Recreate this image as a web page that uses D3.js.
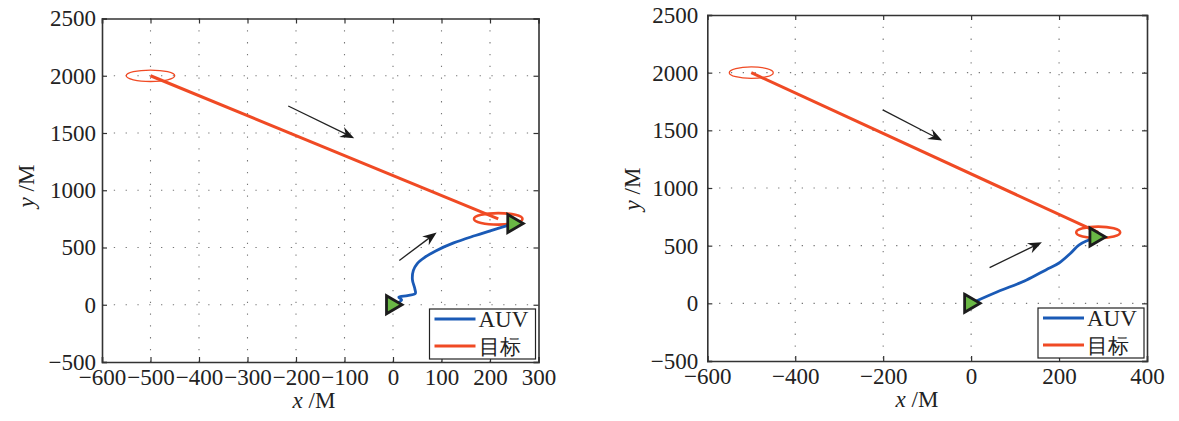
<!DOCTYPE html>
<html>
<head>
<meta charset="utf-8">
<script src="https://cdn.jsdelivr.net/npm/d3@7"></script>
<style>
body { margin: 0; background: #fff; }
text { font-family: "Liberation Serif", "DejaVu Serif", serif; fill: #222; }
</style>
</head>
<body>
<svg id="chart" width="1179" height="421"></svg>
<script>
// tick values
var yTicks = [-500, 0, 500, 1000, 1500, 2000, 2500];
var xTicksA = [-600, -500, -400, -300, -200, -100, 0, 100, 200, 300];
var xTicksB = [-600, -400, -200, 0, 200, 400];

// left panel tracks (metres)
var auvXA = [0, 18, 12, 30, 46, 45, 40, 42, 50, 64, 88, 125, 170, 215, 250];
var auvYA = [0, 42, 66, 80, 98, 140, 220, 300, 360, 410, 470, 540, 605, 665, 710];
var tgtXA = [-500, 217];
var tgtYA = [2000, 750];

// right panel tracks (metres)
var auvXB = [0, 60, 125, 170, 200, 225, 245, 265, 285];
var auvYB = [0, 100, 200, 290, 350, 430, 505, 545, 575];
var tgtXB = [-500, 289];
var tgtYB = [2000, 615];

// direction arrows: x0, y0, x1, y1
var arrowsA = [[-216, 1736, -80, 1455], [13, 387, 90, 631]];
var arrowsB = [[-201, 1677, -66, 1411], [42, 310, 161, 530]];

var seriesNames = ["AUV", "目标"];
var circleRadius = 50;

var blue = "#1a5ab6", red = "#f04a24", green = "#6ab845";

var svg = d3.select("#chart");

function zip(xs, ys) { return xs.map(function(v, i) { return [v, ys[i]]; }); }

function drawPanel(p) {
  var x = d3.scaleLinear().domain(p.xDomain).range([p.left, p.right]);
  var y = d3.scaleLinear().domain([-500, 2500]).range([p.bottom, p.top]);
  var g = svg.append("g");

  // dotted grid
  g.selectAll(".gx").data(p.xTicks.slice(1, -1)).enter().append("line")
    .attr("x1", function(d) { return x(d); }).attr("x2", function(d) { return x(d); })
    .attr("y1", p.top).attr("y2", p.bottom)
    .attr("stroke", "#777").attr("stroke-width", 1.1).attr("stroke-dasharray", "1.3 10.5");
  g.selectAll(".gy").data(yTicks.slice(1, -1)).enter().append("line")
    .attr("y1", function(d) { return y(d); }).attr("y2", function(d) { return y(d); })
    .attr("x1", p.left).attr("x2", p.right)
    .attr("stroke", "#777").attr("stroke-width", 1.1).attr("stroke-dasharray", "1.3 10.5");

  // axes (ticks inward on all sides)
  var tl = 5;
  var fmt = function(d) { return d < 0 ? "\u2212" + Math.abs(d) : d; };
  g.append("g").attr("transform", "translate(0," + p.bottom + ")")
    .call(d3.axisBottom(x).tickValues(p.xTicks).tickSize(-tl).tickPadding(7).tickFormat(fmt));
  g.append("g").attr("transform", "translate(0," + p.top + ")")
    .call(d3.axisTop(x).tickValues(p.xTicks).tickSize(-tl).tickFormat(""));
  g.append("g").attr("transform", "translate(" + p.left + ",0)")
    .call(d3.axisLeft(y).tickValues(yTicks).tickSize(-tl).tickPadding(p.yPad).tickFormat(fmt));
  g.append("g").attr("transform", "translate(" + p.right + ",0)")
    .call(d3.axisRight(y).tickValues(yTicks).tickSize(-tl).tickFormat(""));
  g.selectAll(".domain").attr("stroke", "#333").attr("stroke-width", 1.6);
  g.selectAll(".tick line").attr("stroke", "#333").attr("stroke-width", 1.2);
  g.selectAll(".tick text").attr("font-size", 23).attr("font-family", "Liberation Serif").attr("fill", "#222");

  // axis labels
  var xl = g.append("text").attr("x", p.xLabelX).attr("y", p.bottom + 46)
    .attr("text-anchor", "middle").attr("font-size", 23);
  xl.append("tspan").attr("font-style", "italic").text("x");
  xl.append("tspan").text(" /M");
  var yl = g.append("text")
    .attr("transform", "translate(" + p.yLabelX + "," + p.yLabelY + ") rotate(-90)")
    .attr("text-anchor", "middle").attr("font-size", 23);
  yl.append("tspan").attr("font-style", "italic").text("y");
  yl.append("tspan").text(" /M");

  var line = d3.line().x(function(d) { return x(d[0]); }).y(function(d) { return y(d[1]); });

  // target track and circles
  var tgt = zip(p.tgtX, p.tgtY);
  var auv = zip(p.auvX, p.auvY);
  g.append("path").attr("d", line(tgt)).attr("fill", "none")
    .attr("stroke", red).attr("stroke-width", 3);
  g.append("ellipse").attr("cx", x(tgt[0][0])).attr("cy", y(tgt[0][1]))
    .attr("rx", x(circleRadius) - x(0)).attr("ry", y(0) - y(circleRadius))
    .attr("fill", "none").attr("stroke", red).attr("stroke-width", 1.3);
  g.append("ellipse").attr("cx", x(tgt[1][0])).attr("cy", y(tgt[1][1]))
    .attr("rx", x(circleRadius) - x(0)).attr("ry", y(0) - y(circleRadius))
    .attr("fill", "none").attr("stroke", red).attr("stroke-width", 2.6);

  // AUV track
  g.append("path").attr("d", line.curve(d3.curveCatmullRom)(auv)).attr("fill", "none")
    .attr("stroke", blue).attr("stroke-width", 2.8).attr("stroke-linejoin", "round");

  // triangle markers at start and end of AUV track
  [auv[0], auv[auv.length - 1]].forEach(function(d) {
    g.append("path").attr("d", "M-6.5,-9L9,0L-6.5,9Z")
      .attr("transform", "translate(" + x(d[0]) + "," + y(d[1]) + ")")
      .attr("fill", green).attr("stroke", "#1c1c1c").attr("stroke-width", 2.8)
      .attr("stroke-linejoin", "miter");
  });

  // arrows
  p.arrows.forEach(function(a) {
    var x0 = x(a[0]), y0 = y(a[1]), x1 = x(a[2]), y1 = y(a[3]);
    var ang = Math.atan2(y1 - y0, x1 - x0);
    var bx = x1 - 9 * Math.cos(ang), by = y1 - 9 * Math.sin(ang);
    g.append("line").attr("x1", x0).attr("y1", y0).attr("x2", bx).attr("y2", by)
      .attr("stroke", "#222").attr("stroke-width", 1.3);
    g.append("path").attr("d", "M0,0L-14,-5.5L-9.5,0L-14,5.5Z")
      .attr("transform", "translate(" + x1 + "," + y1 + ") rotate(" + (ang * 180 / Math.PI) + ")")
      .attr("fill", "#1a1a1a");
  });

  // legend
  var lw = 106, lh = 50;
  var lx = p.right - 3 - lw, ly = p.bottom - 3 - lh;
  var lg = g.append("g").attr("transform", "translate(" + lx + "," + ly + ")");
  lg.append("rect").attr("width", lw).attr("height", lh)
    .attr("fill", "#fff").attr("stroke", "#222").attr("stroke-width", 1.2);
  var colors = [blue, red];
  seriesNames.forEach(function(name, i) {
    var cy = 10 + i * 27;
    lg.append("line").attr("x1", 5).attr("x2", 46).attr("y1", cy).attr("y2", cy)
      .attr("stroke", colors[i]).attr("stroke-width", 3);
    lg.append("text").attr("x", 49).attr("y", cy + 8)
      .attr("font-size", i === 0 ? 23 : 21)
      .attr("font-family", i === 0 ? "Liberation Serif" : "Noto Sans CJK SC")
      .text(name);
  });
}

drawPanel({
  left: 102, right: 538.5, top: 18.5, bottom: 362,
  xDomain: [-600, 300], xTicks: xTicksA, yPad: 6,
  auvX: auvXA, auvY: auvYA, tgtX: tgtXA, tgtY: tgtYA, arrows: arrowsA,
  xLabelX: 314, yLabelX: 34, yLabelY: 186
});

drawPanel({
  left: 707.3, right: 1147, top: 15, bottom: 361,
  xDomain: [-600, 400], xTicks: xTicksB, yPad: 9,
  auvX: auvXB, auvY: auvYB, tgtX: tgtXB, tgtY: tgtYB, arrows: arrowsB,
  xLabelX: 917, yLabelX: 640, yLabelY: 189
});
</script>
</body>
</html>
